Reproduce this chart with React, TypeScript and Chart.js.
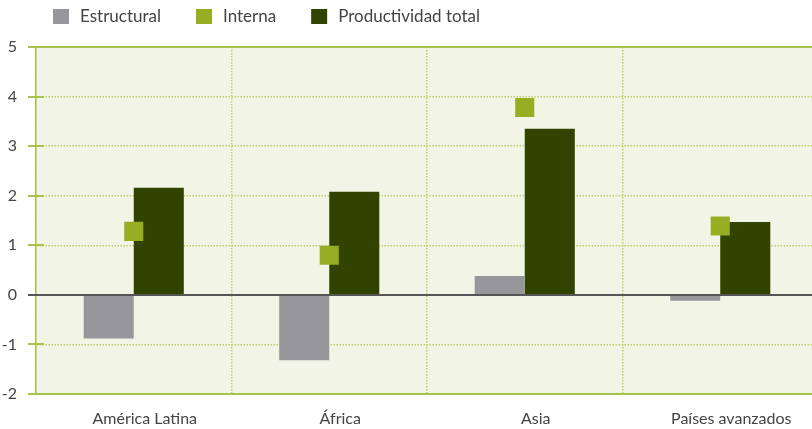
import React, { useEffect, useRef } from "react";
import { Chart, registerables } from "chart.js";

Chart.register(...registerables);

const categories = ["América Latina", "África", "Asia", "Países avanzados"];
const estructural = [-0.88, -1.32, 0.38, -0.12];
const interna = [1.28, 0.8, 3.78, 1.39];
const productividadTotal = [2.16, 2.08, 3.35, 1.47];
const yMin = -2;
const yMax = 5;

const GRAY = "#97979B";
const LIGHT_GREEN = "#97AD23";
const DARK_GREEN = "#324300";
const BG = "#F2F5E5";
const GRID = "#BDD06A";
const FRAME = "#A9C24E";
const TEXT = "#444444";
const FONT = "Lato, 'Open Sans', sans-serif";

const framePlugin = {
  id: "frame",
  beforeDraw(chart: any) {
    const { ctx, chartArea: a } = chart;
    ctx.save();
    ctx.fillStyle = BG;
    ctx.fillRect(a.left, a.top, a.right - a.left, a.bottom - a.top);
    ctx.restore();
  },
  afterDatasetsDraw(chart: any) {
    const { ctx, chartArea: a } = chart;
    const y = chart.scales.y;
    ctx.save();
    y.ticks.forEach((t: any) => {
      if (t.value === 0) return;
      const py = Math.round(y.getPixelForValue(t.value));
      ctx.strokeStyle = FRAME;
      ctx.lineWidth = 2;
      ctx.beginPath();
      ctx.moveTo(a.left - 8, py);
      ctx.lineTo(a.left + 8, py);
      ctx.stroke();
    });
    const top = Math.round(y.getPixelForValue(yMax));
    ctx.strokeStyle = FRAME;
    ctx.lineWidth = 2;
    ctx.beginPath();
    ctx.moveTo(a.left - 8, top);
    ctx.lineTo(a.right, top);
    ctx.stroke();
    const bot = Math.round(y.getPixelForValue(yMin));
    ctx.beginPath();
    ctx.moveTo(a.left - 8, bot);
    ctx.lineTo(a.right, bot);
    ctx.stroke();
    const z = Math.round(y.getPixelForValue(0));
    ctx.strokeStyle = "#555555";
    ctx.lineWidth = 2;
    ctx.beginPath();
    ctx.moveTo(a.left - 8, z);
    ctx.lineTo(a.right, z);
    ctx.stroke();
    ctx.restore();
  },
};

const legendPlugin = {
  id: "customLegend",
  afterDraw(chart: any) {
    const ctx = chart.ctx;
    ctx.save();
    ctx.font = `17px ${FONT}`;
    ctx.textBaseline = "middle";
    ctx.textAlign = "left";
    let x = 53;
    chart.data.datasets.forEach((ds: any) => {
      ctx.fillStyle = ds.legendColor;
      ctx.fillRect(x, 9, 16, 15);
      ctx.fillStyle = TEXT;
      ctx.fillText(ds.label, x + 27, 17);
      x += 27 + ctx.measureText(ds.label).width + 35;
    });
    ctx.restore();
  },
};

export default function App() {
  const ref = useRef<HTMLCanvasElement | null>(null);

  useEffect(() => {
    if (!ref.current) return;
    Chart.defaults.font.family = FONT;
    const chart = new Chart(ref.current, {
      type: "bar",
      data: {
        labels: categories,
        datasets: [
          {
            type: "bar",
            label: "Estructural",
            data: estructural,
            backgroundColor: GRAY,
            legendColor: GRAY,
            order: 1,
            categoryPercentage: 0.512,
            barPercentage: 1,
          } as any,
          {
            type: "line",
            label: "Interna",
            data: interna,
            showLine: false,
            pointStyle: "rect",
            pointRadius: 13.5,
            pointHoverRadius: 13.5,
            pointBorderWidth: 0,
            pointBackgroundColor: LIGHT_GREEN,
            backgroundColor: LIGHT_GREEN,
            borderColor: LIGHT_GREEN,
            legendColor: LIGHT_GREEN,
            order: 0,
          } as any,
          {
            type: "bar",
            label: "Productividad total",
            data: productividadTotal,
            backgroundColor: DARK_GREEN,
            legendColor: DARK_GREEN,
            order: 1,
            categoryPercentage: 0.512,
            barPercentage: 1,
          } as any,
        ],
      },
      options: {
        animation: false,
        responsive: false,
        maintainAspectRatio: false,
        layout: { autoPadding: false, padding: { top: 47, left: 0, right: 0, bottom: 0 } },
        plugins: {
          legend: { display: false },
          tooltip: { enabled: false },
        },
        scales: {
          x: {
            offset: true,
            afterFit: (s: any) => {
              s.height = 35;
            },
            grid: {
              offset: true,
              color: GRID,
              lineWidth: 1.5,
              drawTicks: false,
            },
            border: { display: true, color: FRAME, width: 2, dash: [1.5, 1.5] },
            ticks: {
              color: TEXT,
              font: { size: 16, family: FONT },
              padding: 15,
              labelOffset: 11,
              maxRotation: 0,
              autoSkip: false,
            },
          },
          y: {
            min: yMin,
            max: yMax,
            afterFit: (s: any) => {
              s.width = 36;
            },
            grid: {
              color: (c: any) => {
                const v = c.tick ? c.tick.value : null;
                return v === yMin || v === yMax || v === 0 ? "rgba(0,0,0,0)" : GRID;
              },
              lineWidth: 1.5,
              drawTicks: true,
              tickLength: 8,
              tickColor: "rgba(0,0,0,0)",
            },
            border: { display: true, color: FRAME, width: 1.5, dash: [1.5, 1.5] },
            ticks: {
              stepSize: 1,
              color: TEXT,
              font: { size: 16, family: FONT },
              padding: 11,
            },
          },
        },
      },
      plugins: [framePlugin, legendPlugin],
    } as any);
    return () => chart.destroy();
  }, []);

  return (
    <div
      style={{
        position: "fixed",
        left: 0,
        top: 0,
        width: 812,
        height: 429,
        overflow: "hidden",
        background: "#ffffff",
      }}
    >
      <canvas ref={ref} width={818} height={429} style={{ display: "block" }} />
    </div>
  );
}
